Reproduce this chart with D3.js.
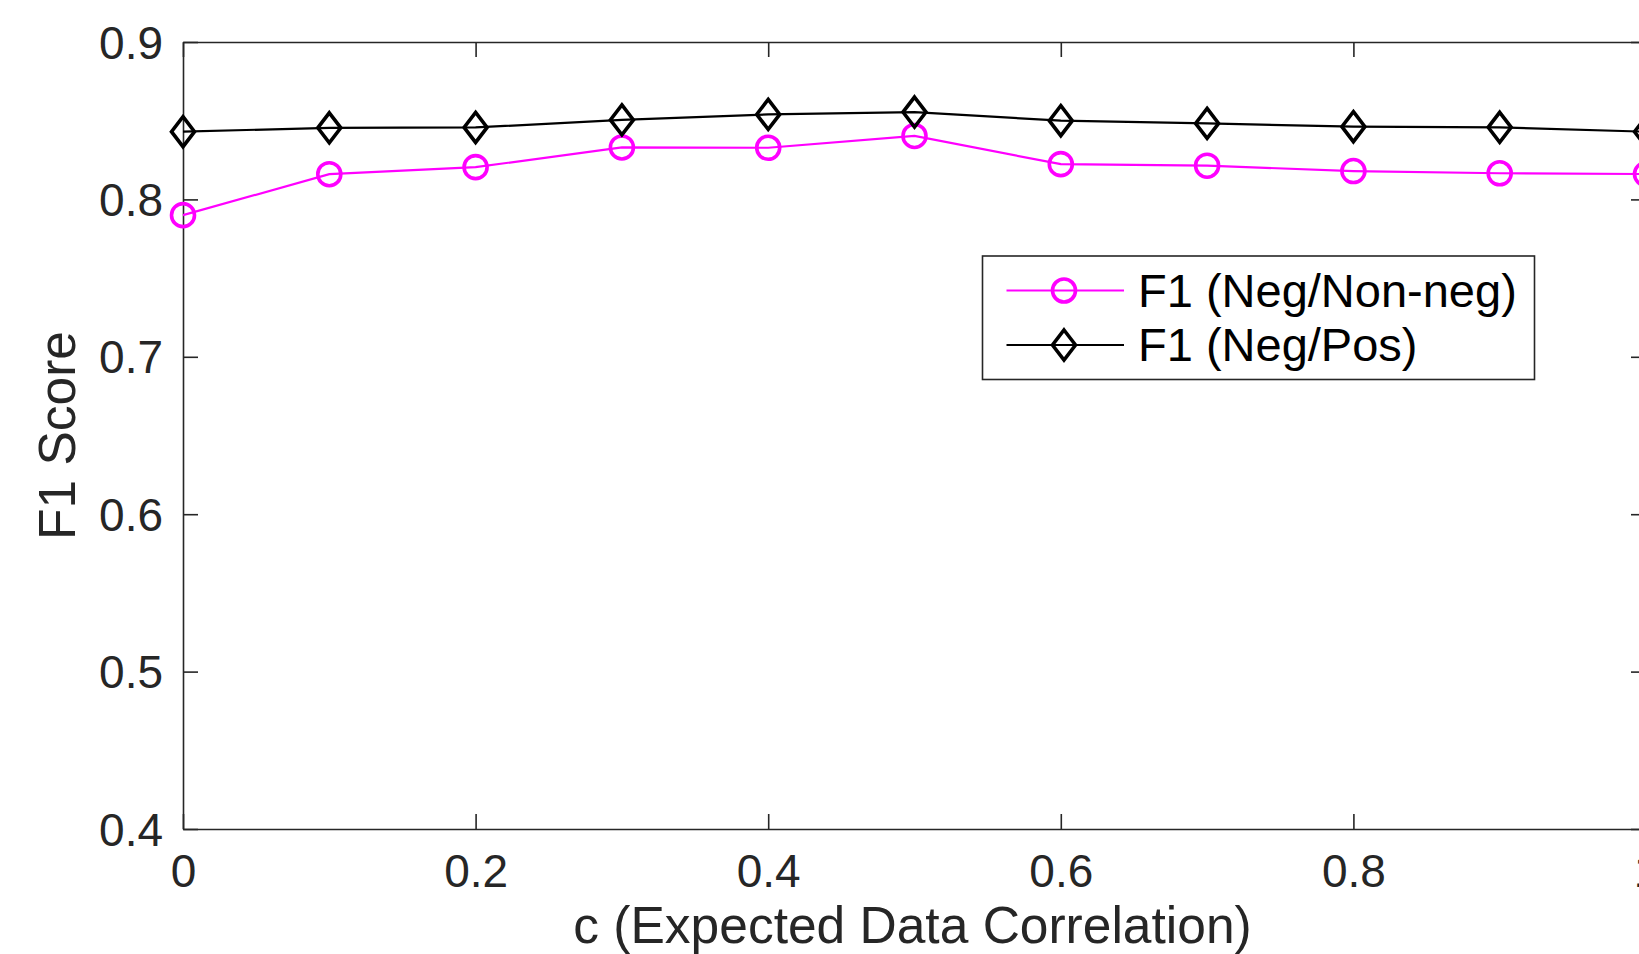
<!DOCTYPE html>
<html>
<head>
<meta charset="utf-8">
<script src="https://cdn.jsdelivr.net/npm/d3@7"></script>
<style>
  html, body { margin: 0; padding: 0; background: #fff; overflow: hidden; }
  svg { display: block; font-family: "Liberation Sans", Arial, Helvetica, sans-serif; }
</style>
</head>
<body>
<svg id="chart" width="1639" height="954"></svg>
<script>
// Correlation levels along the x axis
const corr = [0, 0.1, 0.2, 0.3, 0.4, 0.5, 0.6, 0.7, 0.8, 0.9, 1.0];
// F1 scores for the two classification settings
const f1NegNonNeg = [0.790, 0.816, 0.8205, 0.833, 0.8328, 0.8403, 0.8224, 0.8214, 0.818, 0.8166, 0.8161];
const f1NegPos    = [0.843, 0.8455, 0.8457, 0.8505, 0.854, 0.8555, 0.8500, 0.8483, 0.8462, 0.8458, 0.843];
// Axis ticks
const xTicks = [0, 0.2, 0.4, 0.6, 0.8, 1];
const yTicks = [0.4, 0.5, 0.6, 0.7, 0.8, 0.9];
const seriesNames = ["F1 (Neg/Non-neg)", "F1 (Neg/Pos)"];

(function () {
  const axisColor = "#262626";
  const svg = d3.select("#chart");

  const plotLeft = 183, plotRight = 1646, plotTop = 42, plotBottom = 829;
  const x = d3.scaleLinear().domain([0, 1]).range([plotLeft, plotRight]);
  const y = d3.scaleLinear().domain([0.4, 0.9]).range([plotBottom, plotTop]);
  const tickLen = 15;

  const fmt = d => (d === 0 || d === 1) ? String(d) : d.toFixed(1);

  // Bottom axis with inward ticks
  const gx = svg.append("g").attr("transform", `translate(0,${plotBottom})`)
    .call(d3.axisBottom(x).tickValues(xTicks).tickFormat(fmt).tickSizeInner(-tickLen).tickSizeOuter(0).tickPadding(26));
  // Left axis with inward ticks
  const gy = svg.append("g").attr("transform", `translate(${plotLeft},0)`)
    .call(d3.axisLeft(y).tickValues(yTicks).tickFormat(fmt).tickSizeInner(-tickLen).tickSizeOuter(0).tickPadding(20));
  // Top and right box edges with inward ticks, no labels
  const gt = svg.append("g").attr("transform", `translate(0,${plotTop})`)
    .call(d3.axisTop(x).tickValues(xTicks).tickFormat("").tickSizeInner(-tickLen).tickSizeOuter(0));
  const gr = svg.append("g").attr("transform", `translate(${plotRight},0)`)
    .call(d3.axisRight(y).tickValues(yTicks).tickFormat("").tickSizeInner(-tickLen).tickSizeOuter(0));

  [gx, gy, gt, gr].forEach(g => {
    g.select(".domain").attr("stroke", axisColor).attr("stroke-width", 1.6);
    g.selectAll(".tick line").attr("stroke", axisColor).attr("stroke-width", 1.6);
    g.selectAll(".tick text").attr("fill", axisColor).attr("font-size", 46)
      .attr("font-family", "\"Liberation Sans\", Arial, sans-serif");
  });
  gx.selectAll(".tick text").attr("dy", null).attr("y", 58);
  gy.selectAll(".tick text").attr("dy", "0.35em");

  // Axis titles
  svg.append("text")
    .attr("x", (plotLeft + plotRight) / 2 - 2).attr("y", 943)
    .attr("text-anchor", "middle").attr("font-size", 51.5).attr("fill", axisColor)
    .text("c (Expected Data Correlation)");
  svg.append("text")
    .attr("transform", `translate(75,${(plotTop + plotBottom) / 2}) rotate(-90)`)
    .attr("text-anchor", "middle").attr("font-size", 51.5).attr("fill", axisColor)
    .text("F1 Score");

  // Marker shapes
  const diamondPath = "M0,-15L11.5,0L0,15L-11.5,0Z";
  function drawMarker(g, kind, cx, cy, color) {
    if (kind === "circle") {
      g.append("circle").attr("cx", cx).attr("cy", cy).attr("r", 11.5)
        .attr("fill", "none").attr("stroke", color).attr("stroke-width", 3.6);
    } else {
      g.append("path").attr("d", diamondPath)
        .attr("transform", `translate(${cx},${cy})`)
        .attr("fill", "none").attr("stroke", color).attr("stroke-width", 3.6)
        .attr("stroke-linejoin", "miter");
    }
  }

  const series = [
    { name: seriesNames[0], values: f1NegNonNeg, color: "#ff00ff", marker: "circle" },
    { name: seriesNames[1], values: f1NegPos, color: "#000000", marker: "diamond" }
  ];

  const line = d3.line().x((d, i) => x(corr[i])).y(d => y(d));
  const plot = svg.append("g");
  series.forEach(s => {
    plot.append("path").datum(s.values)
      .attr("d", line).attr("fill", "none")
      .attr("stroke", s.color).attr("stroke-width", 2.2);
    const mg = plot.append("g");
    s.values.forEach((v, i) => drawMarker(mg, s.marker, x(corr[i]), y(v), s.color));
  });

  // Legend
  const legend = svg.append("g");
  legend.append("rect")
    .attr("x", 982.5).attr("y", 256).attr("width", 552).attr("height", 123.5)
    .attr("fill", "#fff").attr("stroke", axisColor).attr("stroke-width", 1.6);
  const rowY = [290.5, 345];
  series.forEach((s, i) => {
    legend.append("line")
      .attr("x1", 1006.5).attr("x2", 1124).attr("y1", rowY[i]).attr("y2", rowY[i])
      .attr("stroke", s.color).attr("stroke-width", 2.2);
    drawMarker(legend, s.marker, 1064, rowY[i], s.color);
    legend.append("text")
      .attr("x", 1138).attr("y", rowY[i]).attr("dy", "0.35em")
      .attr("font-size", 47).attr("fill", "#000")
      .text(s.name);
  });
})();
</script>
</body>
</html>
